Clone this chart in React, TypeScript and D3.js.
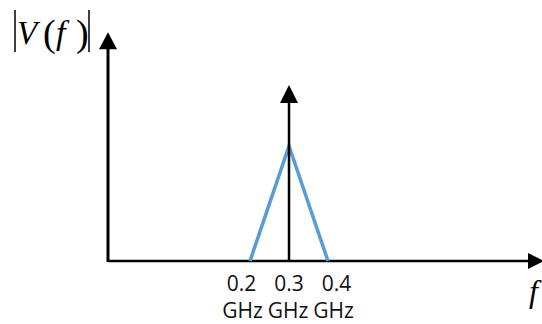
import React from 'react';
import * as d3 from 'd3';

// spectrum data (GHz, relative magnitude)
const triangleFreqs = [0.2, 0.3, 0.4];
const triangleMags = [0, 1, 0];
const deltaFreq = 0.3;
const deltaMag = 1.53;
const freqLabels = ['0.2', '0.3', '0.4'];
const unitLabels = ['GHz', 'GHz', 'GHz'];

const W = 542;
const H = 324;
const originX = 108;
const originY = 261;

const App = () => {
  const x = d3.scaleLinear().domain([0.2, 0.4]).range([250, 328]);
  const y = d3.scaleLinear().domain([0, 1]).range([originY, 146]);

  const tri = d3
    .line<number>()
    .x((d, i) => x(triangleFreqs[i]))
    .y(d => y(d));

  const arrowUp = (cx: number, tipY: number, len: number, half: number) =>
    `M${cx},${tipY}L${cx + half},${tipY + len}L${cx - half},${tipY + len}Z`;
  const arrowRight = (tipX: number, cy: number, len: number, half: number) =>
    `M${tipX},${cy}L${tipX - len},${cy - half}L${tipX - len},${cy + half}Z`;

  const yTop = y(1.99);
  const deltaTop = y(deltaMag);
  const labelFont = "'Open Sans', sans-serif";
  const serif = "'Liberation Serif', 'DejaVu Serif', serif";
  const cx = x(deltaFreq);

  return (
    <svg
      width={W}
      height={H}
      style={{ position: 'absolute', left: 0, top: 0, background: '#fff' }}
    >
      {/* y axis */}
      <line x1={originX} y1={originY + 1} x2={originX} y2={yTop + 12} stroke="#000" strokeWidth={3} />
      <path d={arrowUp(originX, yTop, 17, 9)} fill="#000" />

      {/* x axis */}
      <line x1={originX} y1={originY} x2={W - 10} y2={originY} stroke="#000" strokeWidth={2.5} />
      <path d={arrowRight(W + 2, originY, 16, 8)} fill="#000" />

      {/* triangle spectrum */}
      <path
        d={tri(triangleMags) || ''}
        fill="none"
        stroke="#5b9bd5"
        strokeWidth={3.5}
        strokeLinejoin="miter"
      />

      {/* delta at carrier */}
      <line x1={cx} y1={originY} x2={cx} y2={deltaTop + 12} stroke="#000" strokeWidth={2.5} />
      <path d={arrowUp(cx, deltaTop, 18, 9)} fill="#000" />

      {/* tick labels */}
      <g fontFamily={labelFont} fontSize={21} fill="#111" textAnchor="middle">
        {freqLabels.map((t, i) => (
          <text key={'f' + i} x={cx + (i - 1) * 47.5} y={291}>
            {t}
          </text>
        ))}
        {unitLabels.map((t, i) => (
          <text key={'u' + i} x={cx - 1 + (i - 1) * 45.5} y={318}>
            {t}
          </text>
        ))}
      </g>

      {/* |V(f)| */}
      <line x1={15} y1={10} x2={15} y2={52} stroke="#000" strokeWidth={1.5} />
      <text y={44} fontFamily={serif} fill="#000">
        <tspan x={17} fontStyle="italic" fontSize={33}>V</tspan>
        <tspan x={43} y={46} fontSize={38}>(</tspan>
        <tspan x={56} y={44} fontStyle="italic" fontSize={34}>f</tspan>
        <tspan x={76} y={46} fontSize={38}>)</tspan>
      </text>
      <line x1={89} y1={10} x2={89} y2={52} stroke="#000" strokeWidth={1.5} />

      {/* f axis label */}
      <text x={529} y={302} fontFamily={serif} fontStyle="italic" fontSize={32} fill="#000">
        f
      </text>
    </svg>
  );
};

export default App;
